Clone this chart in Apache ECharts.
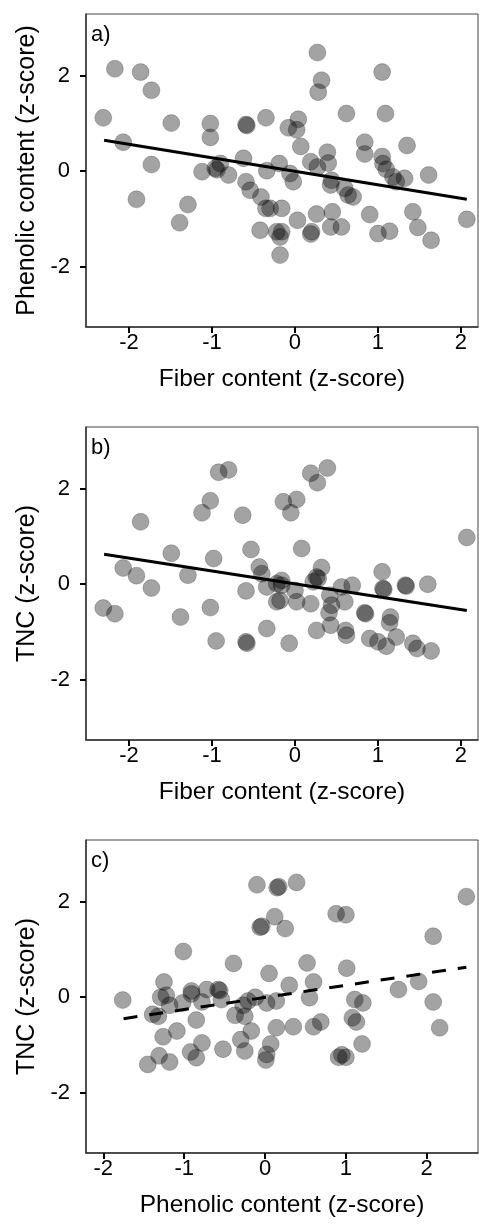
<!DOCTYPE html>
<html>
<head>
<meta charset="utf-8">
<script src="https://cdn.jsdelivr.net/npm/echarts@6/dist/echarts.min.js"></script>
<style>
  html, body { margin: 0; padding: 0; background: #fff; }
  #chart { width: 479px; height: 1224px; }
</style>
</head>
<body>
<div id="chart"></div>
<script>
// panel a: fiber (x) vs phenolic (y)
var fiberA = [-2.17,-1.86,-1.73,-2.31,-1.49,-1.02,-0.59,-0.58,-0.35,-1.02,-2.07,-1.73,-1.12,-0.96,-0.94,-0.90,-0.80,-0.62,-0.34,-0.19,-0.59,
  0.27,1.05,0.32,0.28,0.62,1.09,0.04,-0.08,0.02,0.07,0.84,0.84,1.35,0.39,0.40,0.19,0.27,1.05,1.06,1.10,1.18,1.32,1.61,-0.06,-0.02,0.44,
  0.43,0.60,0.64,0.70,1.22,-0.16,-0.30,0.03,0.26,0.45,0.90,1.42,2.07,-0.22,-0.16,-0.18,0.20,0.19,0.43,0.56,1.00,1.14,1.48,1.64,-0.18,
  -1.91,-1.29,-1.39,-0.42,-0.35,-0.41,-0.54];
var phenolA = [2.15,2.08,1.70,1.12,1.01,1.00,0.98,0.96,1.12,0.71,0.61,0.14,-0.01,0.06,0.03,0.16,-0.08,0.27,0.01,0.16,-0.22,
  2.49,2.08,1.91,1.66,1.21,1.21,1.09,0.91,0.87,0.52,0.61,0.36,0.54,0.40,0.17,0.20,0.09,0.31,0.16,0.04,-0.12,-0.15,-0.08,-0.05,-0.22,-0.19,
  -0.29,-0.36,-0.50,-0.54,-0.22,-0.78,-0.78,-1.03,-0.90,-0.85,-0.91,-0.85,-1.01,-1.27,-1.27,-1.38,-1.27,-1.32,-1.17,-1.17,-1.31,-1.26,-1.18,-1.45,-1.76,
  -0.59,-0.70,-1.08,-1.24,-0.78,-0.54,-0.40];

// panel b: fiber (x) vs TNC (y)
var fiberB = [-0.92,-0.80,-1.02,-1.12,-0.63,-1.86,-0.53,-1.49,-0.98,-2.07,-1.91,-1.29,-0.43,-0.40,
  0.19,0.39,0.27,-0.14,0.02,-0.05,0.08,2.07,0.32,1.05,0.26,0.28,-0.16,
  -1.73,-2.31,-2.17,-1.38,-1.02,-0.59,-0.34,-0.22,-0.22,-0.34,-0.95,-0.59,-0.58,
  -0.16,-0.18,0.02,0.00,0.19,0.22,0.56,0.69,0.42,0.44,0.60,0.41,0.84,0.85,1.06,1.07,1.33,1.34,1.60,1.15,1.14,
  0.26,0.43,0.61,0.62,-0.07,0.90,1.00,1.10,1.22,1.42,1.47,1.64];
var tncB = [2.35,2.40,1.75,1.50,1.45,1.31,0.73,0.65,0.54,0.34,0.18,0.19,0.36,0.22,
  2.33,2.44,2.13,1.73,1.78,1.50,0.75,0.98,0.35,0.26,0.15,0.12,0.08,
  -0.08,-0.50,-0.62,-0.69,-0.49,-0.14,-0.06,0.01,-0.37,-0.93,-1.19,-1.21,-1.24,
  -0.02,-0.34,-0.37,-0.13,-0.41,0.05,-0.06,-0.02,-0.23,-0.44,-0.37,-0.60,-0.60,-0.62,-0.09,-0.11,-0.02,-0.04,0.00,-0.69,-0.81,
  -0.97,-0.86,-0.97,-1.07,-1.24,-1.14,-1.21,-1.30,-1.11,-1.24,-1.35,-1.40];

// panel c: phenolic (x) vs TNC (y)
var phenolC = [-0.10,0.15,0.17,-0.06,-0.04,0.12,-1.01,-0.39,0.05,-1.25,-0.91,-0.72,-0.58,-0.56,
  0.39,0.25,0.88,1.00,2.49,2.08,0.52,1.01,0.30,0.60,1.65,1.90,
  -1.76,-1.29,-1.22,-1.18,-1.39,-1.32,-1.02,-0.91,-0.78,-0.54,-0.85,-1.26,-1.09,-1.31,-1.45,-1.18,-0.92,-0.85,-0.78,-0.52,
  -0.37,-0.25,-0.27,-0.21,-0.12,0.02,0.14,-0.30,-0.17,-0.25,0.07,0.02,0.01,0.14,
  0.55,1.11,1.21,2.08,2.16,0.35,0.60,0.69,1.08,1.13,1.20,0.91,1.00,0.95];
var tncC = [2.36,2.30,2.32,1.47,1.49,1.69,0.96,0.71,0.50,0.32,0.13,0.16,0.16,0.14,
  2.41,1.44,1.75,1.73,2.11,1.28,0.72,0.61,0.25,0.32,0.16,0.33,
  -0.06,0.00,0.04,-0.17,-0.36,-0.40,-0.12,0.07,-0.10,-0.05,-0.48,-0.83,-0.71,-1.23,-1.41,-1.36,-1.15,-1.27,-0.96,-1.09,
  -0.38,-0.40,-0.17,-0.08,0.00,-0.12,-0.08,-0.89,-0.71,-1.13,-0.98,-1.20,-1.32,-0.64,
  -0.01,-0.05,-0.12,-0.10,-0.64,-0.62,-0.62,-0.52,-0.43,-0.52,-0.98,-1.26,-1.26,-1.21];

// fitted lines (end points)
var fitA = [[-2.30, 0.65], [2.07, -0.59]];
var fitB = [[-2.30, 0.63], [2.07, -0.55]];
var fitC = [[-1.75, -0.45], [2.49, 0.63]];

var xTicksAB = [-2, -1, 0, 1, 2];
var xTicksC = [-2, -1, 0, 1, 2];
var yTicks = [-2, 0, 2];

var panelLabels = ['a)', 'b)', 'c)'];
var xNames = ['Fiber content (z-score)', 'Fiber content (z-score)', 'Phenolic content (z-score)'];
var yNames = ['Phenolic content (z-score)', 'TNC (z-score)', 'TNC (z-score)'];

function zip(xs, ys) {
    var out = [];
    for (var i = 0; i < xs.length; i++) out.push([xs[i], ys[i]]);
    return out;
}

var FONT = 'Liberation Sans, Arial, sans-serif';
var gridTops = [14, 427, 840];
var gridH = 313;

var grids = [], xAxes = [], yAxes = [], series = [], titles = [];
var xRanges = [[-2.518, 2.205], [-2.518, 2.205], [-2.214, 2.634]];
var xTicks = [xTicksAB, xTicksAB, xTicksC];
var points = [zip(fiberA, phenolA), zip(fiberB, tncB), zip(phenolC, tncC)];
var fits = [fitA, fitB, fitC];

for (var i = 0; i < 3; i++) {
    grids.push({
        left: 86, top: gridTops[i], width: 392, height: gridH,
        show: true, borderColor: '#444', borderWidth: 1, backgroundColor: '#fff'
    });
    xAxes.push({
        gridIndex: i, type: 'value', min: xRanges[i][0], max: xRanges[i][1],
        name: xNames[i], nameLocation: 'middle', nameGap: 40,
        nameTextStyle: { fontFamily: FONT, fontSize: 24.5, color: '#000' },
        axisLine: { show: true, onZero: false, lineStyle: { color: '#333', width: 1.5 } },
        axisTick: { show: true, customValues: xTicks[i], length: 6, lineStyle: { color: '#000', width: 2 } },
        axisLabel: { customValues: xTicks[i], fontFamily: FONT, fontSize: 22, color: '#000', margin: 5 },
        splitLine: { show: false }
    });
    yAxes.push({
        gridIndex: i, type: 'value', min: -3.27, max: 3.3,
        name: yNames[i], nameLocation: 'middle', nameGap: 46, nameRotate: 90,
        nameTextStyle: { fontFamily: FONT, fontSize: 25, color: '#000' },
        axisLine: { show: true, onZero: false, lineStyle: { color: '#333', width: 1.5 } },
        axisTick: { show: true, customValues: yTicks, length: 6, lineStyle: { color: '#000', width: 2 } },
        axisLabel: { customValues: yTicks, fontFamily: FONT, fontSize: 22, color: '#000', margin: 16 },
        splitLine: { show: false }
    });
    series.push({
        type: 'scatter', xAxisIndex: i, yAxisIndex: i,
        data: points[i], symbolSize: 17,
        itemStyle: { color: 'rgba(0,0,0,0.45)', borderColor: 'rgba(0,0,0,0.25)', borderWidth: 1 },
        silent: true
    });
    series.push({
        type: 'line', xAxisIndex: i, yAxisIndex: i,
        data: fits[i], symbol: 'none', silent: true, z: 3,
        lineStyle: { color: '#000', width: 3, type: i === 2 ? [14, 12] : 'solid' }
    });
    titles.push({
        text: panelLabels[i], left: 86, top: gridTops[i] + 5,
        textStyle: { fontFamily: FONT, fontSize: 22, fontWeight: 'normal', color: '#000' }
    });
}

var chart = echarts.init(document.getElementById('chart'));
chart.setOption({
    animation: false,
    title: titles,
    grid: grids,
    xAxis: xAxes,
    yAxis: yAxes,
    series: series
});
</script>
</body>
</html>
